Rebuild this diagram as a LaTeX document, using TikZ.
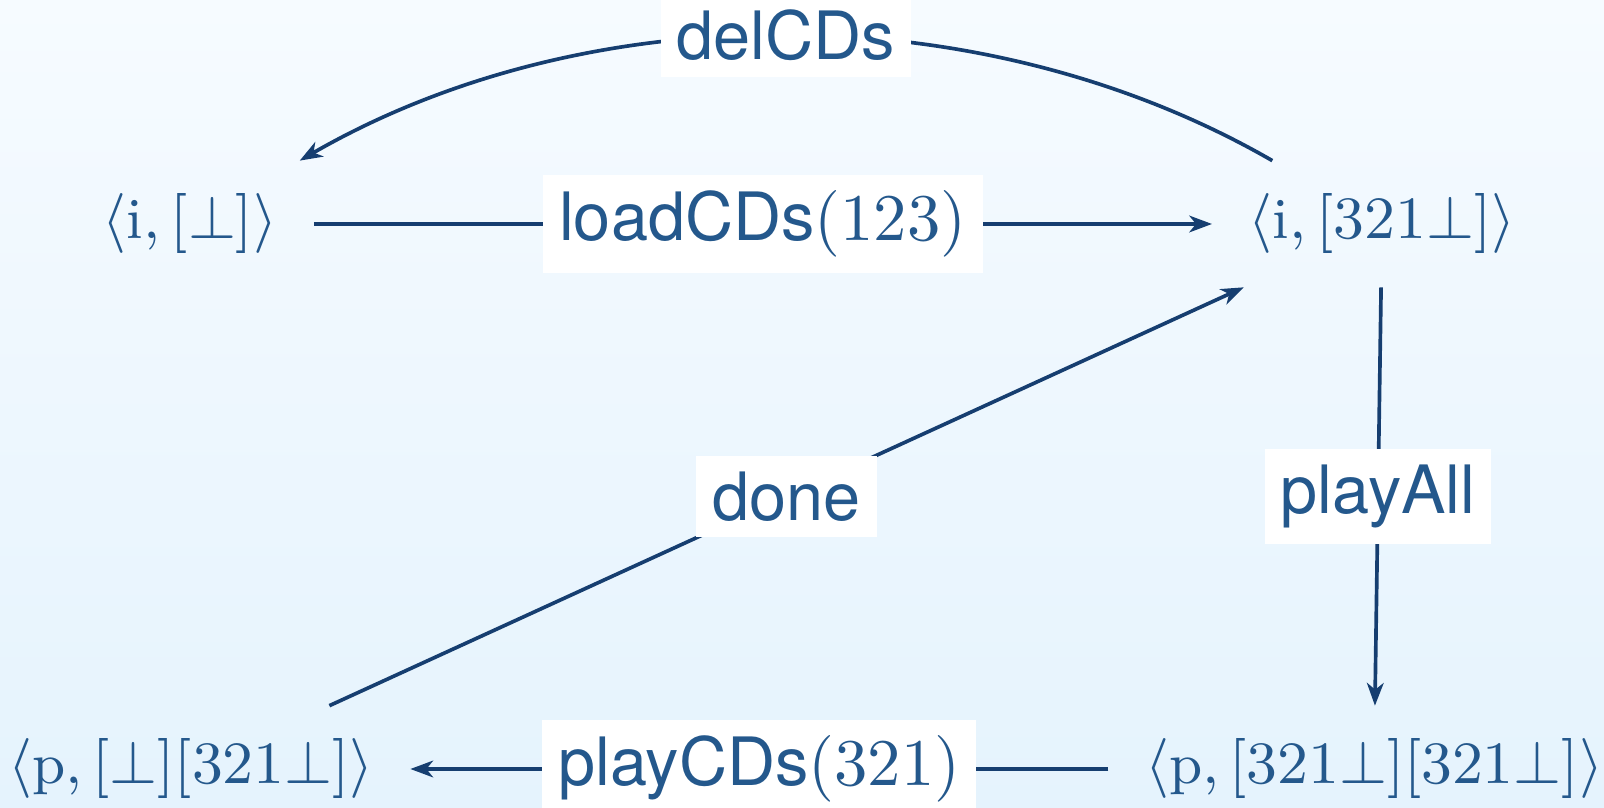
\documentclass[tikz,border=0pt]{standalone}
\usepackage{fontspec}
\setsansfont{TeX Gyre Heros}
\usetikzlibrary{arrows.meta}

\definecolor{cdtext}{RGB}{36,88,140}
\definecolor{cdline}{RGB}{22,62,112}
\definecolor{bgtop}{RGB}{246,251,255}
\definecolor{bgbot}{RGB}{229,243,253}

\begin{document}
\begin{tikzpicture}[
	x=0.15pt, y=-0.15pt,
	state/.style={inner xsep=5.5pt, inner ysep=5pt, outer sep=0pt, text=cdtext, font=\fontsize{8.7}{10}\selectfont},
	act/.style={fill=white, inner sep=2.4pt, text=cdtext, font=\sffamily},
	trans/.style={draw=cdline, line width=0.55pt, -{Stealth[length=3.4pt, width=2.5pt, inset=1pt]}},
]
	% Background
	\shade[top color=bgtop, bottom color=bgbot] (0,0) rectangle (1604,808);
	\useasboundingbox (0,0) rectangle (1604,808);

	% States
	\node[state] (i0) at (190,224) {$\langle\mathrm{i},[\bot]\rangle$};
	\node[state] (i1) at (1382,224) {$\langle\mathrm{i},[321\bot]\rangle$};
	\node[state] (p0) at (191,769) {$\langle\mathrm{p},[\bot][321\bot]\rangle$};
	\node[state] (p1) at (1374,769) {$\langle\mathrm{p},[321\bot][321\bot]\rangle$};

	% Transitions
	\draw[trans] (i0) -- node[act] {loadCDs$(123)$} (i1);
	\draw[trans] (i1) -- node[act] {playAll} (p1);
	\draw[trans] (p1) -- node[act] {playCDs$(321)$} (p0);
	\draw[trans] (p0) -- node[act] {done} (i1);
	\draw[trans] (i1) to[bend right=30, looseness=0.88] node[act] {delCDs} (i0);
\end{tikzpicture}
\end{document}
